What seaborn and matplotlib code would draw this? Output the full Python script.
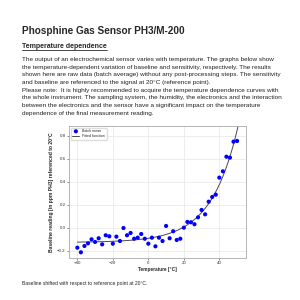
import numpy as np
import pandas as pd
import matplotlib
matplotlib.use("Agg")
import matplotlib.pyplot as plt
import seaborn as sns
from matplotlib.lines import Line2D

# Datos: temperatura [°C] y lectura de línea base
temperatura = [-40, -38, -36, -34, -32, -30, -28, -26, -24, -22, -20, -18,
               -16, -14, -12, -10, -8, -6, -4, -2, 0, 2, 4, 6, 8, 10, 12,
               14, 16, 18, 20, 22, 24, 26, 28, 30, 32, 34, 36, 38, 40, 42,
               44, 46, 48, 50]
lectura = [-0.174, -0.214, -0.159, -0.136, -0.101, -0.124, -0.092, -0.145,
           -0.066, -0.075, -0.139, -0.078, -0.116, -0.003, -0.066, -0.046,
           -0.096, -0.087, -0.055, -0.096, -0.139, -0.087, -0.162, -0.087,
           -0.116, 0.015, -0.092, -0.031, -0.107, -0.096, 0.000, 0.050,
           0.047, 0.030, 0.090, 0.154, 0.116, 0.226, 0.267, 0.287, 0.435,
           0.490, 0.617, 0.609, 0.748, 0.754]

x_ticks = [-40, -20, 0, 20, 40]
y_ticks = [-0.2, 0.0, 0.2, 0.4, 0.6, 0.8]

titulo = "Phosphine Gas Sensor PH3/M-200"
subtitulo = "Temperature dependence"
parrafo = [
    "The output of an electrochemical sensor varies with temperature. The graphs below show",
    "the temperature-dependent variation of baseline and sensitivity, respectively. The results",
    "shown here are raw data (batch average) without any post-processing steps. The sensitivity",
    "and baseline are referenced to the signal at 20°C (reference point).",
    "Please note:  It is highly recommended to acquire the temperature dependence curves with",
    "the whole instrument. The sampling system, the humidity, the electronics and the interaction",
    "between the electronics and the sensor have a significant impact on the temperature",
    "dependence of the final measurement reading.",
]
pie = "Baseline shifted with respect to reference point at 20°C."

df = pd.DataFrame({"T": temperatura, "v": lectura})

# Ajuste exponencial a + b*exp(c*T) (búsqueda de c + mínimos cuadrados)
T = np.array(temperatura, dtype=float)
v = np.array(lectura)
mejor = None
for c in np.linspace(0.01, 0.2, 400):
    A = np.column_stack([np.ones_like(T), np.exp(c * T)])
    coef, res, _, _ = np.linalg.lstsq(A, v, rcond=None)
    err = np.sum((A @ coef - v) ** 2)
    if mejor is None or err < mejor[0]:
        mejor = (err, c, coef)
_, c_fit, (a_fit, b_fit) = mejor
t_fit = np.linspace(-40, 50.6, 200)
df_fit = pd.DataFrame({"T": t_fit, "v": a_fit + b_fit * np.exp(c_fit * t_fit)})

sns.set_theme(style="whitegrid")
plt.rcParams["font.family"] = ["Liberation Sans", "DejaVu Sans"]

fig = plt.figure(figsize=(3, 3), dpi=100)
fig.patch.set_facecolor("white")

# Textos de la página
fig.text(22 / 300, 1 - 31 / 300, titulo, fontsize=7.2, fontweight="bold",
         va="center", ha="left")
sub = fig.text(22 / 300, 1 - 46 / 300, subtitulo, fontsize=5, fontweight="bold",
               va="center", ha="left")
for i, linea in enumerate(parrafo):
    fig.text(22 / 300, 1 - (59.3 + i * 7.7) / 300, linea, fontsize=4.58,
             va="center", ha="left", color="#222222")
fig.text(22 / 300, 1 - 283 / 300, pie, fontsize=3.6, va="center", ha="left",
         color="#222222")

# Subrayado del subtítulo
renderer = fig.canvas.get_renderer()
bb = sub.get_window_extent(renderer).transformed(fig.transFigure.inverted())
fig.add_artist(Line2D([bb.x0, bb.x1], [1 - 50.3 / 300] * 2, color="black",
                      lw=0.5, transform=fig.transFigure))

ax = fig.add_axes([69 / 300, 1 - 257.7 / 300, 177.3 / 300, 131.7 / 300])
sns.scatterplot(data=df, x="T", y="v", ax=ax, color="#0000ff", s=9,
                edgecolor="none", label="Batch mean", zorder=3)
sns.lineplot(data=df_fit, x="T", y="v", ax=ax, color="#4a4a4a", lw=0.7,
             label="Fitted function", zorder=2)

ax.set_xlim(-44.7, 55.2)
ax.set_ylim(-0.261, 0.884)
ax.set_xticks(x_ticks)
ax.set_xticklabels([str(t) if t >= 0 else "\u2212" + str(-t) for t in x_ticks])
ax.set_yticks(y_ticks)
ax.set_yticklabels(["\u22120.2", "0.0", "0.2", "0.4", "0.6", "0.8"])
ax.tick_params(labelsize=3.2, length=1.5, width=0.4, pad=1, colors="#333333")
ax.tick_params(axis="both", which="both", left=True, bottom=True)
ax.grid(True, color="#e6e6e6", lw=0.5)
for s in ax.spines.values():
    s.set_color("#aaaaaa")
    s.set_linewidth(0.6)
ax.set_xlabel("Temperature [°C]", fontsize=3.4, fontweight="bold", labelpad=1.5)
ax.set_ylabel("Baseline reading [in ppm PH3] referenced to 20°C", fontsize=3.6,
              fontweight="bold", labelpad=2)
ax.legend(loc="upper left", fontsize=2.6, frameon=True, borderpad=0.4,
          handlelength=2, labelspacing=0.3, edgecolor="#dddddd",
          framealpha=1, markerscale=1.0)

fig.savefig("out.png", dpi=100, facecolor="white")
